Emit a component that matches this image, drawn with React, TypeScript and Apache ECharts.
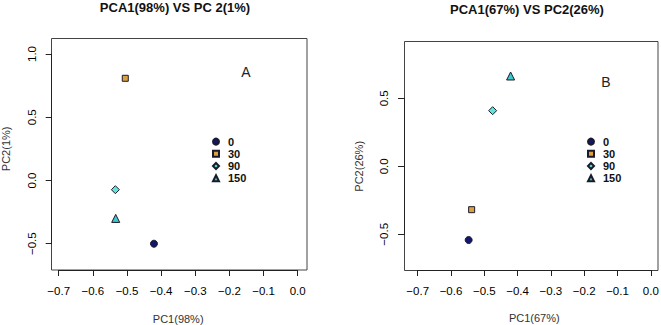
import React, { useEffect, useRef } from "react";
import * as echarts from "echarts";

const groups = ["0", "30", "90", "150"];
const symbols = ["circle", "rect", "diamond", "triangle"];
const symbolSizes = [7, 6, 8, 8];
const colors = ["#13166e", "#dca040", "#62e4dc", "#3cc8cc"];

// Panel A: PC1 / PC2 coordinates per group
const pc1A = [-0.421, -0.505, -0.534, -0.533];
const pc2A = [-0.5, 0.808, -0.073, -0.3];
// Panel B
const pc1B = [-0.547, -0.538, -0.475, -0.421];
const pc2B = [-0.542, -0.319, 0.409, 0.664];

const xTicksMin = -0.7;
const xTicksMax = 0.0;

const fmt = (v: number) => v.toFixed(1).replace("-", "\u2212");

export default function App() {
  const ref = useRef<HTMLDivElement>(null);
  useEffect(() => {
    if (!ref.current) return;
    const chart = echarts.init(ref.current, null, { renderer: "svg" });
    const font = "Liberation Sans, Arial, Helvetica, sans-serif";
    const tick = { show: true, length: 6, lineStyle: { color: "#222" } };
    const axLine = { show: true, onZero: false, lineStyle: { color: "#222" } };
    const xAxisBase = (gridIndex: number, offset: number, name: string, gap: number) => ({
      type: "value",
      gridIndex,
      min: xTicksMin,
      max: xTicksMax,
      interval: 0.1,
      offset,
      position: "bottom",
      axisLine: axLine,
      axisTick: tick,
      splitLine: { show: false },
      axisLabel: { fontFamily: font, fontSize: 11.5, color: "#000", margin: 15, formatter: fmt },
      name,
      nameLocation: "middle",
      nameGap: gap,
      nameTextStyle: { fontFamily: font, fontSize: 11, color: "#333" },
    });
    const yAxisBase = (gridIndex: number, min: number, max: number, offset: number, name: string, gap: number) => ({
      type: "value",
      gridIndex,
      min,
      max,
      interval: 0.5,
      offset,
      position: "left",
      axisLine: axLine,
      axisTick: tick,
      splitLine: { show: false },
      axisLabel: { fontFamily: font, fontSize: 11.5, color: "#000", rotate: 90, margin: 14, formatter: fmt },
      name,
      nameLocation: "middle",
      nameRotate: 90,
      nameGap: gap,
      nameTextStyle: { fontFamily: font, fontSize: 11, color: "#333" },
    });
    const series: any[] = [];
    groups.forEach((g, i) => {
      const common = {
        type: "scatter",
        name: g,
        clip: false,
        symbol: symbols[i],
        symbolSize: symbolSizes[i],
        itemStyle: { color: colors[i], borderColor: "#1a1a2a", borderWidth: 1, opacity: 1 },
      };
      series.push({ ...common, xAxisIndex: 0, yAxisIndex: 0, data: [[pc1A[i], pc2A[i]]] });
      series.push({ ...common, xAxisIndex: 1, yAxisIndex: 1, data: [[pc1B[i], pc2B[i]]] });
    });
    const legendBase = (left: number, top: number) => ({
      orient: "vertical",
      left,
      top,
      itemWidth: 6,
      itemHeight: 6,
      itemGap: 0,
      padding: 0,
      selectedMode: false,
      data: groups,
      textStyle: {
        fontFamily: font,
        fontSize: 11,
        fontWeight: "bold",
        color: "#111",
        lineHeight: 12.2,
        padding: [0, 0, 0, 4],
      },
    });
    chart.setOption({
      animation: false,
      backgroundColor: "#ffffff",
      title: [
        {
          text: "PCA1(98%) VS PC 2(1%)",
          left: 175,
          top: 1,
          padding: 0,
          textAlign: "center",
          textStyle: { fontFamily: font, fontSize: 13, fontWeight: "bold", color: "#111" },
        },
        {
          text: "PCA1(67%) VS PC2(26%)",
          left: 527,
          top: 3,
          padding: 0,
          textAlign: "center",
          textStyle: { fontFamily: font, fontSize: 13, fontWeight: "bold", color: "#111" },
        },
      ],
      grid: [
        { left: 58.7, top: 54, width: 239, height: 189.7, outerBoundsMode: "none", containLabel: false },
        { left: 417.7, top: 98.3, width: 233.1, height: 136, outerBoundsMode: "none", containLabel: false },
      ],
      xAxis: [xAxisBase(0, 26.3, "PC1(98%)", 43), xAxisBase(1, 35.7, "PC1(67%)", 42)],
      yAxis: [yAxisBase(0, -0.5, 1.0, 7, "PC2(1%)", 40), yAxisBase(1, -0.5, 0.5, 13.7, "PC2(26%)", 40)],
      legend: [legendBase(212, 135.5), legendBase(587, 135.5)],
      series,
      graphic: [
        { type: "rect", shape: { x: 51.5, y: 38.5, width: 255.5, height: 231.5 }, style: { fill: "none", stroke: "#444", lineWidth: 1 }, z: 0 },
        { type: "rect", shape: { x: 404.5, y: 41.5, width: 253.5, height: 229 }, style: { fill: "none", stroke: "#444", lineWidth: 1 }, z: 0 },
        { type: "text", x: 246, y: 72, style: { text: "A", fontFamily: font, fontSize: 14, fill: "#222", align: "center", verticalAlign: "middle" } },
        { type: "text", x: 606, y: 82, style: { text: "B", fontFamily: font, fontSize: 14, fill: "#222", align: "center", verticalAlign: "middle" } },
      ],
    });
    return () => chart.dispose();
  }, []);
  return <div ref={ref} style={{ position: "fixed", left: 0, top: 0, width: 661, height: 325 }} />;
}
